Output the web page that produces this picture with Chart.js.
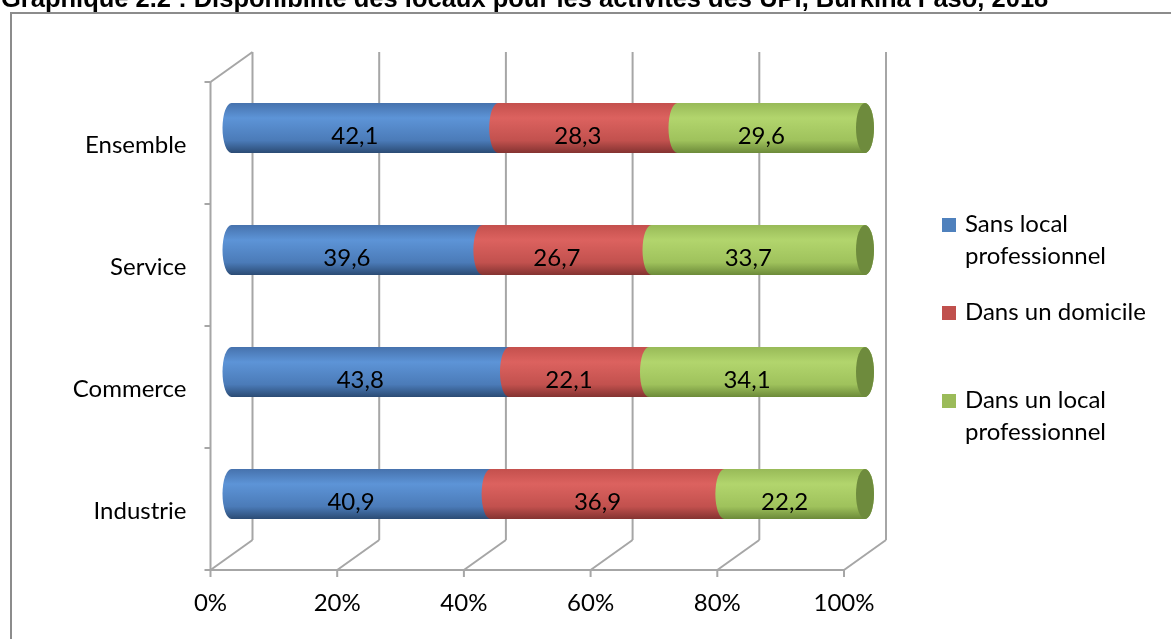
<!DOCTYPE html>
<html lang="fr">
<head>
<meta charset="utf-8">
<title>Graphique 2.2</title>
<script src="https://cdn.jsdelivr.net/npm/chart.js@4.4.1/dist/chart.umd.min.js"></script>
<style>
  html, body { margin: 0; padding: 0; background: #fff; }
  body { width: 1171px; height: 639px; position: relative; overflow: hidden; }
  #frame { position: absolute; left: 10px; top: 12px; width: 1300px; height: 800px; border: 2px solid #8c8c8c; box-sizing: border-box; }
  #title { position: absolute; left: 1px; top: -15px; font: bold 25.5px "Liberation Sans", Arial, sans-serif; line-height: 27px; white-space: nowrap; color: #000; }
  #chart { position: absolute; left: 0; top: 0; }
</style>
</head>
<body>
<div id="frame"></div>
<canvas id="chart" width="1171" height="639"></canvas>
<div id="title">Graphique 2.2 : Disponibilité des locaux pour les activités des UPI, Burkina Faso, 2018</div>
<script>
"use strict";

const categories = ["Ensemble", "Service", "Commerce", "Industrie"];
const sansLocal = [42.1, 39.6, 43.8, 40.9];
const domicile = [28.3, 26.7, 22.1, 36.9];
const localPro = [29.6, 33.7, 34.1, 22.2];
const seriesNames = ["Sans local professionnel", "Dans un domicile", "Dans un local professionnel"];
const legendLines = [["Sans local", "professionnel"], ["Dans un domicile"], ["Dans un local", "professionnel"]];
const xTicks = [0, 20, 40, 60, 80, 100];

const FONT = "Lato, 'Open Sans', sans-serif";
const GRID = "#a6a6a6";
// half of the 3D depth, in pixels
const DX = 21;
const DY = 15;

// cylinder shading: top edge, highlight, lower body, bottom edge, end face
const shades = [
  { key: "#4f81bd", stops: ["#4672ad", "#5d94d7", "#4b7bb8", "#2b4b74"], cap: "#3d6597" },
  { key: "#c0504d", stops: ["#c4504d", "#dc625f", "#c2514e", "#843331"], cap: "#9a3d3a" },
  { key: "#9bbb59", stops: ["#98ba58", "#b2d56d", "#9fc25c", "#6c8a39"], cap: "#6e8b3d" }
];

function fmt(v) {
  return v.toFixed(1).replace(".", ",");
}

function line(ctx, x1, y1, x2, y2) {
  ctx.beginPath();
  ctx.moveTo(x1, y1);
  ctx.lineTo(x2, y2);
  ctx.stroke();
}

// back wall, floor and left wall of the 3D box
const box3d = {
  id: "box3d",
  beforeDatasetsDraw(chart) {
    const ctx = chart.ctx;
    const xs = chart.scales.x;
    const ys = chart.scales.y;
    const backTop = ys.top - DY;
    const backBottom = ys.bottom - DY;
    const frontTop = ys.top + DY;
    const frontBottom = ys.bottom + DY;
    ctx.save();
    ctx.strokeStyle = GRID;
    ctx.lineWidth = 2;
    for (const v of xTicks) {
      const px = xs.getPixelForValue(v);
      line(ctx, px + DX, backTop, px + DX, backBottom);
      line(ctx, px + DX, backBottom, px - DX, frontBottom);
      line(ctx, px - DX, frontBottom, px - DX, frontBottom + 7);
    }
    const x0 = xs.getPixelForValue(0) - DX;
    const x1 = xs.getPixelForValue(100) - DX;
    line(ctx, x0 - 6, frontBottom, x1, frontBottom);
    line(ctx, x0, frontTop, x0, frontBottom);
    line(ctx, x0, frontTop, x0 + 2 * DX, backTop);
    const band = (ys.bottom - ys.top) / categories.length;
    for (let i = 0; i < categories.length; i++) {
      line(ctx, x0 - 6, frontTop + i * band, x0, frontTop + i * band);
    }
    ctx.restore();
  }
};

function segmentPath(ctx, left, right, y, h, rx) {
  const ry = h / 2;
  ctx.beginPath();
  ctx.moveTo(left, y - ry);
  ctx.lineTo(right, y - ry);
  ctx.ellipse(right, y, rx, ry, 0, -Math.PI / 2, Math.PI / 2);
  ctx.lineTo(left, y + ry);
  ctx.ellipse(left, y, rx, ry, 0, Math.PI / 2, Math.PI * 1.5);
  ctx.closePath();
}

// stacked cylinders and their value labels
const cylinders = {
  id: "cylinders",
  afterDatasetsDraw(chart) {
    const ctx = chart.ctx;
    const metas = chart.data.datasets.map((d, i) => chart.getDatasetMeta(i));
    ctx.save();
    for (let r = 0; r < categories.length; r++) {
      metas.forEach((meta, s) => {
        const el = meta.data[r];
        const p = el.getProps(["x", "y", "base", "height"], true);
        const h = p.height;
        const rx = 9;
        const g = ctx.createLinearGradient(0, p.y - h / 2, 0, p.y + h / 2);
        const st = shades[s].stops;
        g.addColorStop(0, st[0]);
        g.addColorStop(0.3, st[1]);
        g.addColorStop(0.75, st[2]);
        g.addColorStop(1, st[3]);
        ctx.fillStyle = g;
        segmentPath(ctx, p.base, p.x, p.y, h, rx);
        ctx.fill();
        if (s === metas.length - 1) {
          ctx.fillStyle = shades[s].cap;
          ctx.beginPath();
          ctx.ellipse(p.x, p.y, rx, h / 2, 0, 0, Math.PI * 2);
          ctx.fill();
        }
      });
      metas.forEach((meta, s) => {
        const el = meta.data[r];
        const p = el.getProps(["x", "y", "base"], true);
        ctx.fillStyle = "#000";
        ctx.font = "24px " + FONT;
        ctx.textAlign = "center";
        ctx.textBaseline = "middle";
        ctx.fillText(fmt(chart.data.datasets[s].data[r]), (p.base + p.x) / 2 - 10, p.y + 8);
      });
    }
    ctx.restore();
  }
};

// legend on the right, names wrapped on two lines
const sideLegend = {
  id: "sideLegend",
  afterDraw(chart) {
    const ctx = chart.ctx;
    const baselines = [232, 320, 408];
    ctx.save();
    ctx.font = "24px " + FONT;
    ctx.textAlign = "left";
    ctx.textBaseline = "alphabetic";
    legendLines.forEach((lines, i) => {
      const b = baselines[i];
      ctx.fillStyle = shades[i].key;
      ctx.fillRect(942, b - 14, 14, 14);
      ctx.fillStyle = "#000";
      lines.forEach((t, k) => ctx.fillText(t, 965, b + k * 31.5));
    });
    ctx.restore();
  }
};

const datasets = [sansLocal, domicile, localPro].map((data, i) => ({
  label: seriesNames[i],
  data: data,
  backgroundColor: "rgba(0,0,0,0)",
  borderWidth: 0,
  barPercentage: 0.41,
  categoryPercentage: 1
}));

new Chart(document.getElementById("chart"), {
  type: "bar",
  data: { labels: categories, datasets: datasets },
  options: {
    indexAxis: "y",
    responsive: false,
    animation: false,
    events: [],
    layout: { padding: { left: 0, right: 306, top: 67, bottom: 0 } },
    plugins: { legend: { display: false }, tooltip: { enabled: false } },
    scales: {
      x: {
        stacked: true,
        min: 0,
        max: 100,
        afterFit(scale) { scale.height = 84; },
        afterBuildTicks(scale) { scale.ticks = xTicks.map(v => ({ value: v })); },
        grid: { display: false, drawTicks: false },
        border: { display: false },
        ticks: {
          font: { family: FONT, size: 24 },
          color: "#000",
          padding: 34,
          labelOffset: -DX,
          maxRotation: 0,
          autoSkip: false,
          callback: v => v + "%"
        }
      },
      y: {
        stacked: true,
        afterFit(scale) { scale.width = 231.5; },
        grid: { display: false, drawTicks: false },
        border: { display: false },
        ticks: {
          font: { family: FONT, size: 24 },
          color: "#000",
          padding: 45,
          labelOffset: 17
        }
      }
    }
  },
  plugins: [box3d, cylinders, sideLegend]
});
</script>
</body>
</html>
